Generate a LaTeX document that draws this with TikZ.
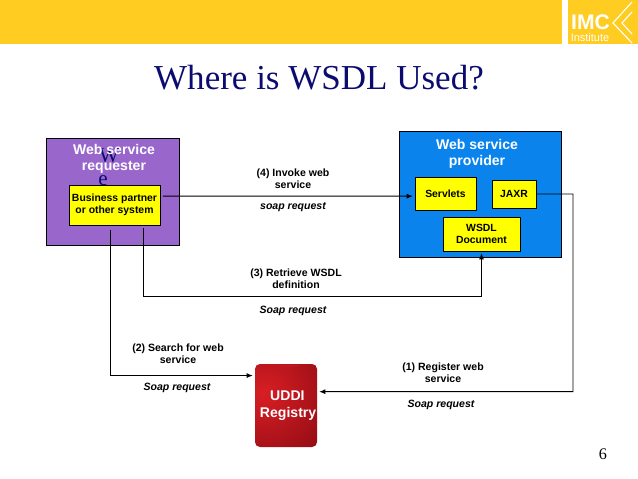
\documentclass[tikz,border=0pt]{standalone}
\usepackage{fontspec}
\setmainfont{Liberation Sans}
\newfontfamily\titlefont{Liberation Serif}
\usetikzlibrary{arrows.meta}
\definecolor{bannerYellow}{HTML}{FFCC22}
\definecolor{titleBlue}{HTML}{0C0C70}
\definecolor{reqPurple}{HTML}{9966CC}
\definecolor{provBlue}{HTML}{0A84EC}
\definecolor{boxYellow}{HTML}{FFFF00}
\definecolor{uddiDark}{HTML}{8C0A12}
\definecolor{uddiBright}{HTML}{D81E24}
\tikzset{
	hostbox/.style={draw=black, line width=0.7pt, minimum width=#1, outer sep=0pt},
	partbox/.style={draw=black, line width=0.7pt, fill=boxYellow, align=center, outer sep=0pt,
		inner sep=0pt, font=\fontsize{7.4pt}{8.6pt}\selectfont\bfseries},
	hosttitle/.style={text=white, align=center, font=\fontsize{10pt}{11.4pt}\selectfont\bfseries},
	steplabel/.style={align=center, font=\fontsize{7.5pt}{8.4pt}\selectfont\bfseries},
	soaplabel/.style={font=\fontsize{7.5pt}{8.4pt}\selectfont\bfseries\itshape},
	conn/.style={line width=0.7pt, -{Latex[length=4.5pt,width=3.6pt]}, shorten >=1.5pt}
}
\begin{document}
\begin{tikzpicture}[x=0.025cm, y=-0.025cm]
	\useasboundingbox (0,0) rectangle (638,479);
	
	\fill[bannerYellow] (0,0) rectangle (562,44);
	\fill[bannerYellow] (568,0) rectangle (638,44);
	\node[text=white, font=\fontsize{15pt}{16pt}\selectfont\bfseries] (logoname) at (590.5,22) {IMC};
	\node[text=white, font=\fontsize{7.8pt}{8pt}\selectfont] (logosub) at (590,38) {Institute};
	\draw[white, line width=0.8pt] (632,2) -- (613,23) -- (632,43);
	\draw[white, line width=0.8pt] (632,12) -- (622,23) -- (632,34);
	
	\node[text=titleBlue, font=\fontsize{24.9pt}{28pt}\selectfont\titlefont] (title) at (319,78) {Where is WSDL Used?};
	\node[font=\fontsize{11.5pt}{14pt}\selectfont\titlefont] (pagenum) at (603,454) {6};
	
	\node[hostbox=133*0.025cm, fill=reqPurple, minimum height=107*0.025cm] (requester) at (112.5,191.5) {};
	\node[text=titleBlue, font=\fontsize{15pt}{16pt}\selectfont\titlefont] (strayw) at (109,156) {W};
	\node[text=titleBlue, font=\fontsize{15pt}{16pt}\selectfont\titlefont] (straye) at (103,181) {e};
	\node[hosttitle] (reqtitle) at (114,159) {Web service\\requester};
	\node[partbox, minimum width=91*0.025cm, minimum height=40*0.025cm] (partner) at (114.5,205) {Business partner\\or other system};
	
	\node[hostbox=162*0.025cm, fill=provBlue, minimum height=126*0.025cm] (provider) at (480,194) {};
	\node[hosttitle] (provtitle) at (477,153.5) {Web service\\provider};
	\node[partbox, minimum width=61*0.025cm, minimum height=33*0.025cm] (servlets) at (445.5,193.5) {Servlets};
	\node[partbox, minimum width=44*0.025cm, minimum height=28*0.025cm] (jaxr) at (514,194) {JAXR};
	\node[partbox, minimum width=77*0.025cm, minimum height=34*0.025cm] (wsdl) at (481.5,234) {WSDL\\Document};
	
	\node[minimum width=62*0.025cm, minimum height=83*0.025cm, rounded corners=3.5pt, outer sep=0pt, inner sep=0pt,
		text=white, align=center, font=\fontsize{10pt}{12pt}\selectfont\bfseries,
		path picture={
			\shade[inner color=uddiBright, outer color=uddiDark] (8,-24) circle (2.1cm);
			\fill[uddiDark, opacity=0.3] (-31,-42) rectangle (-24,42);
		}] (uddi) at (286,405.5) {\hspace*{2pt}UDDI\\\hspace*{3pt}Registry};
	\fill[uddiBright!70!uddiDark] (272,365) arc[start angle=180, end angle=0, x radius=14, y radius=2];
	
	\coordinate (retrievecorner) at (481.5,296);
	\coordinate (registercorner) at (573,391.7);
	
	\draw[conn, shorten <=2pt] (partner.11) -- (servlets.185);
	\draw[conn, shorten <=2pt] (partner.-35) |- (retrievecorner) -- (wsdl.south);
	\draw[conn, shorten <=3.5pt] (partner.-100) |- (uddi.136);
	\draw[conn] (jaxr.east) -| (registercorner) -- (uddi.24);
	
	\node[steplabel] (invokelabel) at (293,178.5) {(4) Invoke web\\service};
	\node[soaplabel] (invokesoap) at (293,207) {soap request};
	\node[steplabel] (retrievelabel) at (296,278.5) {(3) Retrieve WSDL\\definition};
	\node[soaplabel] (retrievesoap) at (293,310.5) {Soap request};
	\node[steplabel] (searchlabel) at (178,353.5) {(2) Search for web\\service};
	\node[soaplabel] (searchsoap) at (177,387.5) {Soap request};
	\node[steplabel] (registerlabel) at (443,372.5) {(1) Register web\\service};
	\node[soaplabel] (registersoap) at (441,404.5) {Soap request};
	
\end{tikzpicture}
\end{document}
